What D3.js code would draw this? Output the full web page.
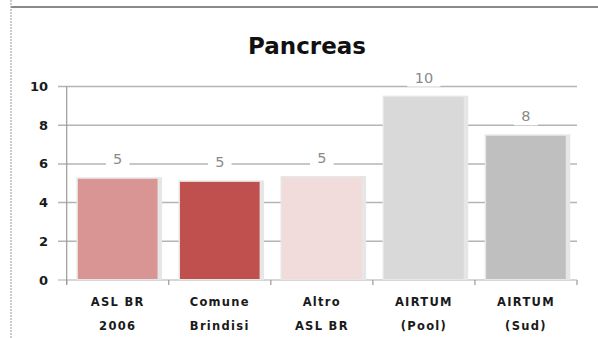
<!DOCTYPE html>
<html><head><meta charset="utf-8">
<script src="https://cdn.jsdelivr.net/npm/d3@7"></script>
<style>body{margin:0;background:#fff}svg{display:block}</style>
</head><body>
<script>
const categories = [["ASL BR","2006"],["Comune","Brindisi"],["Altro","ASL BR"],["AIRTUM","(Pool)"],["AIRTUM","(Sud)"]];
const values = [5.23, 5.07, 5.3, 9.45, 7.45];
const valueLabels = ["5","5","5","10","8"];
const colors = ["#d99594","#c0504d","#f2dcdb","#d9d9d9","#bfbfbf"];
const yTicks = [0,2,4,6,8,10];
const title = "Pancreas";

const W = 598, H = 338;
const svg = d3.select("body").append("svg").attr("width", W).attr("height", H);

// frame
svg.append("line").attr("x1",11).attr("x2",W).attr("y1",7).attr("y2",7).attr("stroke","#8a8a8a").attr("stroke-width",2);
svg.append("line").attr("x1",11).attr("x2",11).attr("y1",0).attr("y2",H).attr("stroke","#999").attr("stroke-width",1).attr("stroke-dasharray","2,1");

const x = d3.scaleBand().domain(d3.range(values.length)).range([66.7, 577]).paddingInner(0.22).paddingOuter(0.11);
const y = d3.scaleLinear().domain([0,10]).range([280, 86.5]);

// gridlines
svg.append("g").selectAll("line").data(yTicks).join("line")
  .attr("x1",58).attr("x2",577).attr("y1",d=>y(d)).attr("y2",d=>y(d))
  .attr("stroke",d=>d===0?"#c8c8c8":"#b4b4b4").attr("stroke-width",1.5);

// y axis labels
svg.append("g").selectAll("text").data(yTicks).join("text")
  .attr("x",48).attr("y",d=>y(d)+4.5).attr("text-anchor","end")
  .attr("font-family","DejaVu Sans, sans-serif").attr("font-weight","bold")
  .attr("font-size",13).attr("fill","#1a1a1a").text(d=>d);

// y axis line
svg.append("line").attr("x1",66.7).attr("x2",66.7).attr("y1",y(10)).attr("y2",284).attr("stroke","#999").attr("stroke-width",1.2);
// x ticks
const bounds = d3.range(values.length+1).map(i=>66.7 + i*(577-66.7)/values.length);
svg.append("g").selectAll("line").data(bounds).join("line")
  .attr("x1",d=>d).attr("x2",d=>d).attr("y1",280).attr("y2",285).attr("stroke","#999").attr("stroke-width",1.2);

// bars with shadow
const g = svg.append("g");
g.selectAll("rect.sh").data(values).join("rect").attr("class","sh")
  .attr("x",(d,i)=>x(i)-1.5).attr("y",d=>y(d)-1.5).attr("width",x.bandwidth()+6).attr("height",d=>y(0)-y(d)+1.5)
  .attr("fill","#e6e6e6");
g.selectAll("rect.bar").data(values).join("rect").attr("class","bar")
  .attr("x",(d,i)=>x(i)).attr("y",d=>y(d)).attr("width",x.bandwidth()).attr("height",d=>y(0)-y(d)-1)
  .attr("fill",(d,i)=>colors[i]);

// value labels
const lab = svg.append("g").selectAll("g").data(values).join("g")
  .attr("transform",(d,i)=>`translate(${x(i)+x.bandwidth()/2},${y(d)-14.5})`);
lab.append("rect").attr("x",(d,i)=>-(valueLabels[i].length*4.8+7)).attr("y",-14)
  .attr("width",(d,i)=>2*(valueLabels[i].length*4.8+7)).attr("height",18).attr("fill","#fff");
lab.append("text").attr("text-anchor","middle").attr("y",0)
  .attr("font-family","DejaVu Sans, sans-serif").attr("font-size",14.5).attr("fill","#8a8a8a")
  .text((d,i)=>valueLabels[i]);

// x labels
const xl = svg.append("g").selectAll("text").data(categories).join("text")
  .attr("text-anchor","middle")
  .attr("font-family","DejaVu Sans, sans-serif").attr("font-weight","bold")
  .attr("font-size",11.5).attr("letter-spacing",1.3).attr("fill","#1a1a1a");
xl.append("tspan").attr("x",(d,i)=>x(i)+x.bandwidth()/2).attr("y",306).text(d=>d[0]);
xl.append("tspan").attr("x",(d,i)=>x(i)+x.bandwidth()/2).attr("y",330).text(d=>d[1]);

// title
svg.append("text").attr("x",307).attr("y",53.5).attr("text-anchor","middle")
  .attr("font-family","DejaVu Sans, sans-serif").attr("font-weight","bold")
  .attr("font-size",23).attr("fill","#111").text(title);
</script>
</body></html>
